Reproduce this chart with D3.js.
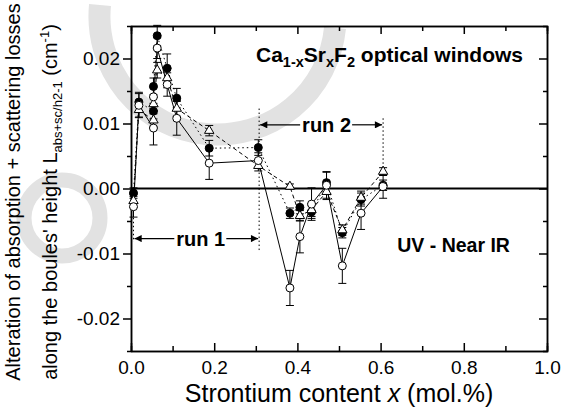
<!DOCTYPE html>
<html>
<head>
<meta charset="utf-8">
<script src="https://cdn.jsdelivr.net/npm/d3@7"></script>
<style>
  body { margin: 0; background: #fff; }
  svg { font-family: "Liberation Sans", Arial, sans-serif; }
  .axis path, .axis line { stroke: #000; stroke-width: 1.5; }
  .axis text { font-size: 19px; fill: #000; }
</style>
</head>
<body>
<svg id="chart"></svg>
<script>
// Sr content of the samples (mol. fraction as plotted)
var strontium = [0.006, 0.019, 0.054, 0.054, 0.063, 0.087, 0.11, 0.188, 0.306,
                 0.382, 0.406, 0.434, 0.47, 0.508, 0.553, 0.606];

// filled circles (dotted line)
var filledLoss = [-0.0007, 0.0133, 0.0119, 0.0157, 0.0235, 0.0185, 0.0139, 0.0062, 0.0063,
                  -0.0038, -0.0029, -0.0036, 0.0009, -0.0068, -0.0017, 0.0005];
var filledErr  = [0.0008, 0.0015, 0.0012, 0.0013, 0.0016, 0.0022, 0.0015, 0.0012, 0.0012,
                  0.0008, 0.0010, 0.0010, 0.0017, 0.0008, 0.0010, 0.0008];

// open triangles (dashed line)
var triLoss = [-0.0019, 0.0121, 0.0105, 0.0130, 0.0182, 0.0170, 0.0123, 0.0089, 0.0035,
               0.0003, -0.0042, -0.0033, -0.0005, -0.0064, -0.0014, 0.0026];
var triErr  = [0.0010, 0.0012, 0.0010, 0.0010, 0.0012, 0.0015, 0.0012, 0.0008, 0.0008,
               0.0004, 0.0008, 0.0010, 0.0012, 0.0008, 0.0010, 0.0006];

// open circles (solid line)
var openLoss = [-0.0028, 0.0128, 0.0093, 0.0141, 0.0216, 0.0160, 0.0108, 0.0039, 0.0043,
                -0.0153, -0.0074, -0.0024, 0.0005, -0.0119, -0.0038, 0.0003];
var openErr  = [0.0016, 0.0018, 0.0026, 0.0015, 0.0016, 0.0018, 0.0026, 0.0025, 0.0012,
                0.0027, 0.0025, 0.0025, 0.0020, 0.0027, 0.0025, 0.0018];

var xTicks = [0, 0.2, 0.4, 0.6, 0.8, 1.0];
var xMinor = [0.1, 0.3, 0.5, 0.7, 0.9];
var yTicks = [-0.02, -0.01, 0, 0.01, 0.02];
var yMinor = [-0.015, -0.005, 0.005, 0.015];

// run ranges (x positions of the dotted markers)
var run1 = [0.006, 0.308];
var run2 = [0.308, 0.606];

var margin = {top: 26, right: 21, bottom: 59, left: 131},
    width = 568 - margin.left - margin.right,
    height = 410 - margin.top - margin.bottom;

var svg = d3.select("#chart")
    .attr("width", 568)
    .attr("height", 410);

// faint watermark swirls in the scan
var wm = svg.append("g").attr("fill", "none").attr("stroke", "#e2e2e2");
wm.append("path")
    .attr("d", "M100,5 A118,118 0 0 0 335,28")
    .attr("stroke-width", 22);
wm.append("circle")
    .attr("cx", 62).attr("cy", 218).attr("r", 38)
    .attr("stroke-width", 15);

var g = svg.append("g")
    .attr("transform", "translate(" + margin.left + "," + margin.top + ")");

var x = d3.scaleLinear().domain([0, 1]).range([0, width]);
var y = d3.scaleLinear().domain([-0.025, 0.025]).range([height, 0]);

var fmtY = function(d) { return d3.format(".2f")(d).replace("\u2212", "-"); };

// axes
g.append("g").attr("class", "axis")
    .attr("transform", "translate(0," + height + ")")
    .call(d3.axisBottom(x).tickValues(xTicks).tickSizeInner(-8).tickSizeOuter(0)
        .tickPadding(10).tickFormat(d3.format(".1f")));
g.append("g").attr("class", "axis")
    .attr("transform", "translate(0," + height + ")")
    .call(d3.axisBottom(x).tickValues(xMinor).tickSize(-5).tickFormat(""));
g.append("g").attr("class", "axis")
    .call(d3.axisTop(x).tickValues(xTicks).tickSizeInner(-8).tickSizeOuter(0).tickFormat(""));
g.append("g").attr("class", "axis")
    .call(d3.axisTop(x).tickValues(xMinor).tickSize(-5).tickFormat(""));

g.append("g").attr("class", "axis")
    .call(d3.axisLeft(y).tickValues(yTicks).tickSizeInner(8).tickSizeOuter(0)
        .tickPadding(3).tickFormat(fmtY));
g.append("g").attr("class", "axis")
    .call(d3.axisLeft(y).tickValues(yMinor).tickSize(4).tickFormat(""));
g.append("g").attr("class", "axis")
    .attr("transform", "translate(" + width + ",0)")
    .call(d3.axisRight(y).tickValues(yTicks).tickSizeInner(-8).tickSizeOuter(0).tickFormat(""));
g.append("g").attr("class", "axis")
    .attr("transform", "translate(" + width + ",0)")
    .call(d3.axisRight(y).tickValues(yMinor).tickSize(-4).tickFormat(""));

// zero line
g.append("line")
    .attr("x1", x(0)).attr("x2", x(1))
    .attr("y1", y(0)).attr("y2", y(0))
    .attr("stroke", "#000").attr("stroke-width", 1.8);

// dotted run markers
var dots = g.append("g").attr("stroke", "#000").attr("stroke-width", 1)
    .attr("stroke-dasharray", "1.5,2.5");
dots.append("line").attr("x1", x(run1[0])).attr("x2", x(run1[0]))
    .attr("y1", y(-0.0045)).attr("y2", y(-0.0082));
dots.append("line").attr("x1", x(run1[1])).attr("x2", x(run1[1]))
    .attr("y1", y(0.0123)).attr("y2", y(-0.0095));
dots.append("line").attr("x1", x(run2[1])).attr("x2", x(run2[1]))
    .attr("y1", y(0.0108)).attr("y2", y(0.0031));

// series
var series = [
  {vals: filledLoss, err: filledErr, dash: "1.5,3", mark: "filled"},
  {vals: triLoss, err: triErr, dash: "4,3", mark: "tri"},
  {vals: openLoss, err: openErr, dash: null, mark: "open"}
];

series.forEach(function(s) {
  var pts = strontium.map(function(sx, i) { return {x: sx, v: s.vals[i], e: s.err[i]}; });
  var line = d3.line()
      .x(function(d) { return x(d.x); })
      .y(function(d) { return y(d.v); });
  g.append("path")
      .datum(pts)
      .attr("fill", "none")
      .attr("stroke", "#000")
      .attr("stroke-width", 1)
      .attr("stroke-dasharray", s.dash)
      .attr("d", line);

  var eb = g.append("g").attr("stroke", "#000").attr("stroke-width", 1);
  eb.selectAll(".bar").data(pts).enter().append("line")
      .attr("x1", function(d) { return x(d.x); })
      .attr("x2", function(d) { return x(d.x); })
      .attr("y1", function(d) { return y(d.v - d.e); })
      .attr("y2", function(d) { return y(d.v + d.e); });
  [-1, 1].forEach(function(sg) {
    eb.selectAll(".cap").data(pts).enter().append("line")
        .attr("x1", function(d) { return x(d.x) - 4; })
        .attr("x2", function(d) { return x(d.x) + 4; })
        .attr("y1", function(d) { return y(d.v + sg * d.e); })
        .attr("y2", function(d) { return y(d.v + sg * d.e); });
  });
  s.pts = pts;
});

series.forEach(function(s) {
  if (s.mark === "tri") {
    g.selectAll(".tri").data(s.pts).enter().append("path")
        .attr("d", d3.symbol().type(d3.symbolTriangle).size(38))
        .attr("transform", function(d) { return "translate(" + x(d.x) + "," + y(d.v) + ")"; })
        .attr("fill", "#fff").attr("stroke", "#000").attr("stroke-width", 1);
  } else {
    g.selectAll(".dot").data(s.pts).enter().append("circle")
        .attr("cx", function(d) { return x(d.x); })
        .attr("cy", function(d) { return y(d.v); })
        .attr("r", 4)
        .attr("fill", s.mark === "filled" ? "#000" : "#fff")
        .attr("stroke", "#000").attr("stroke-width", 1);
  }
});

// arrows for the runs
svg.append("defs").append("marker")
    .attr("id", "arr").attr("viewBox", "0 0 10 10")
    .attr("refX", 10).attr("refY", 5)
    .attr("markerWidth", 8).attr("markerHeight", 6)
    .attr("orient", "auto-start-reverse")
    .append("path").attr("d", "M0,0 L10,5 L0,10 z").attr("fill", "#000");

function runLabel(range, yv, label, gapL, gapR) {
  var xm = (x(range[0]) + x(range[1])) / 2;
  g.append("line").attr("x1", xm - gapL).attr("x2", x(range[0]) + 1)
      .attr("y1", y(yv)).attr("y2", y(yv))
      .attr("stroke", "#000").attr("stroke-width", 1.2).attr("marker-end", "url(#arr)");
  g.append("line").attr("x1", xm + gapR).attr("x2", x(range[1]) - 1)
      .attr("y1", y(yv)).attr("y2", y(yv))
      .attr("stroke", "#000").attr("stroke-width", 1.2).attr("marker-end", "url(#arr)");
  g.append("text")
      .attr("x", xm - gapL + 2).attr("y", y(yv) + 7)
      .style("font-size", "20px").style("font-weight", "bold")
      .text(label);
}
runLabel(run1, -0.0077, "run 1", 22, 30);
runLabel(run2, 0.0098, "run 2", 21, 31);

// title inside the plot
var title = g.append("text")
    .attr("x", width - 24).attr("y", 36)
    .attr("text-anchor", "end")
    .style("font-size", "21px").style("font-weight", "bold");
title.append("tspan").text("Ca");
title.append("tspan").attr("dy", 5).style("font-size", "14.5px").text("1-x");
title.append("tspan").attr("dy", -5).text("Sr");
title.append("tspan").attr("dy", 5).style("font-size", "14.5px").text("x");
title.append("tspan").attr("dy", -5).text("F");
title.append("tspan").attr("dy", 5).style("font-size", "14.5px").text("2");
title.append("tspan").attr("dy", -5).text(" optical windows");

g.append("text")
    .attr("x", x(0.64)).attr("y", y(-0.0097))
    .style("font-size", "19.5px").style("font-weight", "bold")
    .text("UV - Near IR");

// x axis title
var xl = svg.append("text")
    .attr("x", margin.left + width / 2).attr("y", 401.5)
    .attr("text-anchor", "middle")
    .style("font-size", "25px");
xl.append("tspan").text("Strontium content  ");
xl.append("tspan").style("font-style", "italic").text("x");
xl.append("tspan").text(" (mol.%)");

// y axis title, two lines
svg.append("text")
    .attr("transform", "translate(20,192) rotate(-90)")
    .attr("text-anchor", "middle")
    .style("font-size", "20px")
    .text("Alteration of absorption + scattering losses");
var yl = svg.append("text")
    .attr("transform", "translate(57,202) rotate(-90)")
    .attr("text-anchor", "middle")
    .style("font-size", "20px");
yl.append("tspan").text("along the boules' height  L");
yl.append("tspan").attr("dy", 5).style("font-size", "13px").text("abs+sc/h2-1");
yl.append("tspan").attr("dy", -5).text(" (cm");
yl.append("tspan").attr("dy", -8).style("font-size", "13px").text("-1");
yl.append("tspan").attr("dy", 8).text(")");
</script>
</body>
</html>
